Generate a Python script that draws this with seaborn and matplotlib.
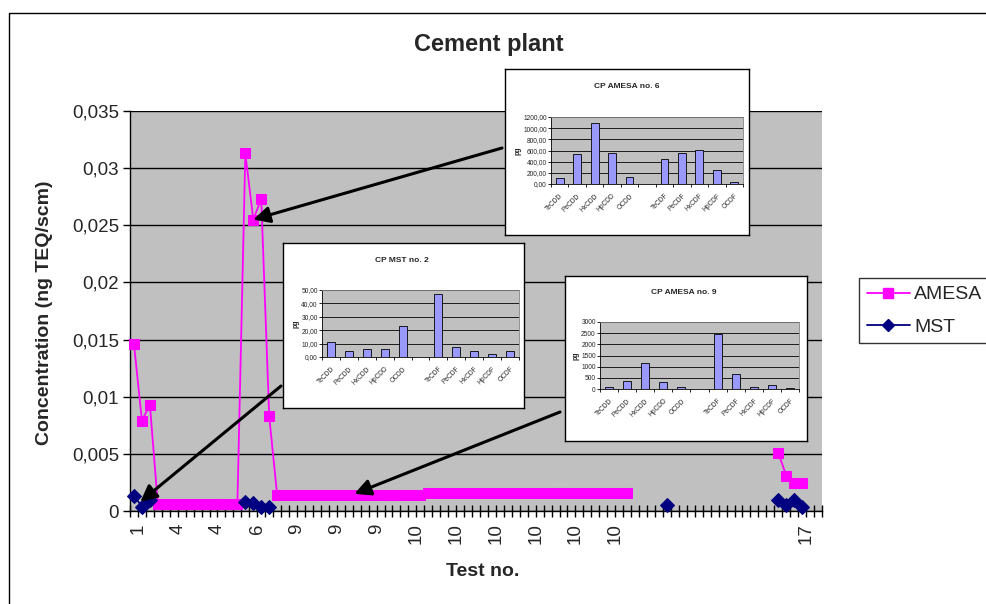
import numpy as np
import pandas as pd
import seaborn as sns
import matplotlib.pyplot as plt
from matplotlib.lines import Line2D
from matplotlib.patches import Rectangle
from matplotlib.transforms import ScaledTranslation

nan = np.nan

# Концентрация по измерениям (ng TEQ/scm), nan = нет значения
amesa = [
    0.0146, 0.0079, 0.0093, 0.0006, 0.0006, 0.0006, 0.0006, 0.0006, 0.0006, 0.0006,
    0.0006, 0.0006, 0.0006, 0.0006, 0.0313, 0.0255, 0.0273, 0.0083, 0.0014, 0.0014,
    0.0014, 0.0014, 0.0014, 0.0014, 0.0014, 0.0014, 0.0014, 0.0014, 0.0014, 0.0014,
    0.0014, 0.0014, 0.0014, 0.0014, 0.0014, 0.0014, 0.0014, 0.0016, 0.0016, 0.0016,
    0.0016, 0.0016, 0.0016, 0.0016, 0.0016, 0.0016, 0.0016, 0.0016, 0.0016, 0.0016,
    0.0016, 0.0016, 0.0016, 0.0016, 0.0016, 0.0016, 0.0016, 0.0016, 0.0016, 0.0016,
    0.0016, 0.0016, 0.0016, nan, nan, nan, nan, nan, nan, nan,
    nan, nan, nan, nan, nan, nan, nan, nan, nan, nan,
    nan, 0.0051, 0.0031, 0.00245, 0.00245, nan, nan,
]
mst = [
    0.00134, 0.00038, 0.00096, nan, nan, nan, nan, nan, nan, nan,
    nan, nan, nan, nan, 0.00082, 0.00068, 0.00038, 0.00038, nan, nan,
    nan, nan, nan, nan, nan, nan, nan, nan, nan, nan,
    nan, nan, nan, nan, nan, nan, nan, nan, nan, nan,
    nan, nan, nan, nan, nan, nan, nan, nan, nan, nan,
    nan, nan, nan, nan, nan, nan, nan, nan, nan, nan,
    nan, nan, nan, nan, nan, nan, nan, 0.00053, nan, nan,
    nan, nan, nan, nan, nan, nan, nan, nan, nan, nan,
    nan, 0.00096, 0.00053, 0.00096, 0.00032, nan, nan,
]

# подписи оси X (номер теста) и их категории
label_idx = [0, 5, 10, 15, 20, 25, 30, 35, 40, 45, 50, 55, 60, 84]
label_txt = ['1', '4', '4', '6', '9', '9', '9', '10', '10', '10', '10', '10', '10', '17']

ytick_vals = [0, 0.005, 0.01, 0.015, 0.02, 0.025, 0.03, 0.035]
ytick_txt = ['0', '0,005', '0,01', '0,015', '0,02', '0,025', '0,03', '0,035']

# врезки: профили конгенеров (pg)
congeners = ['TeCDD', 'PeCDD', 'HxCDD', 'HpCDD', 'OCDD', '',
             'TeCDF', 'PeCDF', 'HxCDF', 'HpCDF', 'OCDF']
amesa6 = [106, 532, 1100, 550, 124, 0, 444, 556, 603, 248, 41]
mst2 = [11.4, 4.7, 5.9, 5.9, 23.5, 0, 47.0, 7.2, 4.5, 2.5, 4.2]
amesa9 = [75, 375, 1155, 330, 105, 0, 2460, 690, 105, 165, 30]

sns.set_style("white")
plt.rcParams['font.family'] = ['Liberation Sans', 'DejaVu Sans']

W, H = 987, 604
fig = plt.figure(figsize=(W / 100, H / 100), dpi=100)


def box(x0, y0, x1, y1):
    return [x0 / W, 1 - y1 / H, (x1 - x0) / W, (y1 - y0) / H]


# рамка вокруг диаграммы
fig.patches.append(Rectangle((9 / W, -0.1), 1.2, 1.1 - 13 / H, transform=fig.transFigure,
                             fill=False, edgecolor='black', lw=1))

ax = fig.add_axes(box(130, 111, 822, 511))
ax.set_facecolor('#C0C0C0')

rows = []
for name, vals in [('AMESA', amesa), ('MST', mst)]:
    seg, prev = 0, False
    for i, v in enumerate(vals):
        ok = not np.isnan(v)
        if ok and not prev:
            seg += 1
        if ok:
            rows.append((name, i, v, seg))
        prev = ok
df = pd.DataFrame(rows, columns=['series', 'idx', 'val', 'seg'])

styles = {'AMESA': ('#FF00FF', 's', 7.5), 'MST': ('#000080', 'D', 6.8)}
for name in ['AMESA', 'MST']:
    c, m, ms = styles[name]
    sns.lineplot(data=df[df.series == name], x='idx', y='val', units='seg', estimator=None,
                 color=c, marker=m, markersize=ms, markeredgecolor=c, lw=1.3,
                 ax=ax, legend=False, clip_on=False, zorder=3)

n = len(amesa)
ax.set_xlim(-0.5, n - 0.5)
ax.set_ylim(0, 0.035)
ax.set_xticks(np.arange(-0.5, n, 1), minor=True)
ax.set_xticks(label_idx, label_txt, rotation=90)
ax.set_yticks(ytick_vals, ytick_txt)
ax.tick_params(axis='x', which='minor', bottom=True, direction='inout', length=9, width=1,
               color='black')
ax.tick_params(axis='x', which='major', bottom=True, length=0, pad=9, labelsize=13.5)
ax.tick_params(axis='y', left=True, direction='out', length=5, width=1, color='black',
               labelsize=13.5, pad=3)
# подписи в Excel чуть правее центра категории
shift = ScaledTranslation(4 / 100, 0, fig.dpi_scale_trans)
for lbl in ax.get_xticklabels():
    lbl.set_transform(lbl.get_transform() + shift)
ax.yaxis.grid(True, color='black', lw=1)
ax.xaxis.grid(False)
ax.set_axisbelow(True)
for s in ['top', 'right']:
    ax.spines[s].set_visible(False)
for s in ['left', 'bottom']:
    ax.spines[s].set_color('black')
    ax.spines[s].set_linewidth(1)
    ax.spines[s].set_zorder(2.5)
ax.set_xlabel('')
ax.set_ylabel('')

fig.text(489 / W, 1 - 45 / H, 'Cement plant', fontsize=17, fontweight='bold',
         ha='center', va='center')
fig.text(45 / W, 1 - 313 / H, 'Concentration (ng TEQ/scm)', fontsize=14, fontweight='bold',
         rotation=90, ha='center', va='center')
fig.text(483 / W, 1 - 572 / H, 'Test no.', fontsize=14, fontweight='bold',
         ha='center', va='center')

# стрелки от врезок к точкам
arrow = dict(arrowstyle='-|>,head_length=0.7,head_width=0.35', lw=2.2, color='black',
             shrinkA=0, shrinkB=0, mutation_scale=14)
ax.annotate('', xy=(15, 0.0255), xytext=(502, H - 148), textcoords='figure pixels',
            arrowprops=arrow, zorder=4)
ax.annotate('', xy=(0.8, 0.0008), xytext=(281, H - 386), textcoords='figure pixels',
            arrowprops=arrow, zorder=4)
ax.annotate('', xy=(27.7, 0.0015), xytext=(560, H - 412), textcoords='figure pixels',
            arrowprops=arrow, zorder=4)


def inset(frame_px, plot_px, title, title_xy, vals, yticks, ylabels):
    fa = fig.add_axes(box(*frame_px))
    fa.set_xticks([])
    fa.set_yticks([])
    fa.set_facecolor('white')
    for s in fa.spines.values():
        s.set_color('black')
        s.set_linewidth(1)
    fig.text(title_xy[0] / W, 1 - title_xy[1] / H, title, fontsize=6, fontweight='bold',
             ha='center', va='center')
    ia = fig.add_axes(box(*plot_px))
    ia.set_facecolor('#C0C0C0')
    sns.barplot(x=congeners, y=vals, color='#9999FF', edgecolor='black', linewidth=0.6,
                width=0.45, saturation=1, ax=ia)
    ia.set_ylim(yticks[0], yticks[-1])
    ia.set_xlim(-0.5, len(congeners) - 0.5)
    ia.set_yticks(yticks, ylabels)
    ia.set_xticks(np.arange(-0.5, len(congeners), 1), minor=True)
    ia.set_xticks(range(len(congeners)), congeners, rotation=45, ha='right',
                  rotation_mode='anchor')
    ia.tick_params(axis='x', which='major', bottom=True, length=0, pad=6, labelsize=4.8)
    ia.tick_params(axis='x', which='minor', bottom=True, direction='out', length=2.5,
                   width=0.6, color='black')
    ia.tick_params(axis='y', left=True, direction='out', length=2, width=0.6, color='black',
                   labelsize=4.8, pad=1)
    ia.yaxis.grid(True, color='black', lw=0.6)
    ia.set_axisbelow(True)
    for s in ['top', 'right']:
        ia.spines[s].set_color('#808080')
        ia.spines[s].set_linewidth(0.6)
    for s in ['left', 'bottom']:
        ia.spines[s].set_color('black')
        ia.spines[s].set_linewidth(0.6)
    ia.set_xlabel('')
    ia.set_ylabel('pg', fontsize=5, fontweight='bold', labelpad=1)


inset((505, 69, 749, 235), (551, 117, 743, 184), 'CP AMESA no. 6', (627, 87), amesa6,
      [0, 200, 400, 600, 800, 1000, 1200],
      ['0,00', '200,00', '400,00', '600,00', '800,00', '1000,00', '1200,00'])
inset((283, 243, 524, 408), (322, 290, 519, 357), 'CP MST no. 2', (402, 260), mst2,
      [0, 10, 20, 30, 40, 50], ['0,00', '10,00', '20,00', '30,00', '40,00', '50,00'])
inset((565, 276, 807, 441), (600, 322, 799, 389), 'CP AMESA no. 9', (684, 293), amesa9,
      [0, 500, 1000, 1500, 2000, 2500, 3000], ['0', '500', '1000', '1500', '2000', '2500', '3000'])

handles = [Line2D([], [], color='#FF00FF', marker='s', markersize=7, lw=1.3),
           Line2D([], [], color='#000080', marker='D', markersize=6, lw=1.3)]
leg = fig.legend(handles, ['AMESA', 'MST'], loc='upper left',
                 bbox_to_anchor=(859 / W, 1 - 278 / H), frameon=True, fancybox=False,
                 edgecolor='black', fontsize=14, handlelength=2.2, borderpad=0.4,
                 labelspacing=0.75, handletextpad=0.25, borderaxespad=0)
leg.get_frame().set_linewidth(1)

fig.savefig('out.png', dpi=100)
